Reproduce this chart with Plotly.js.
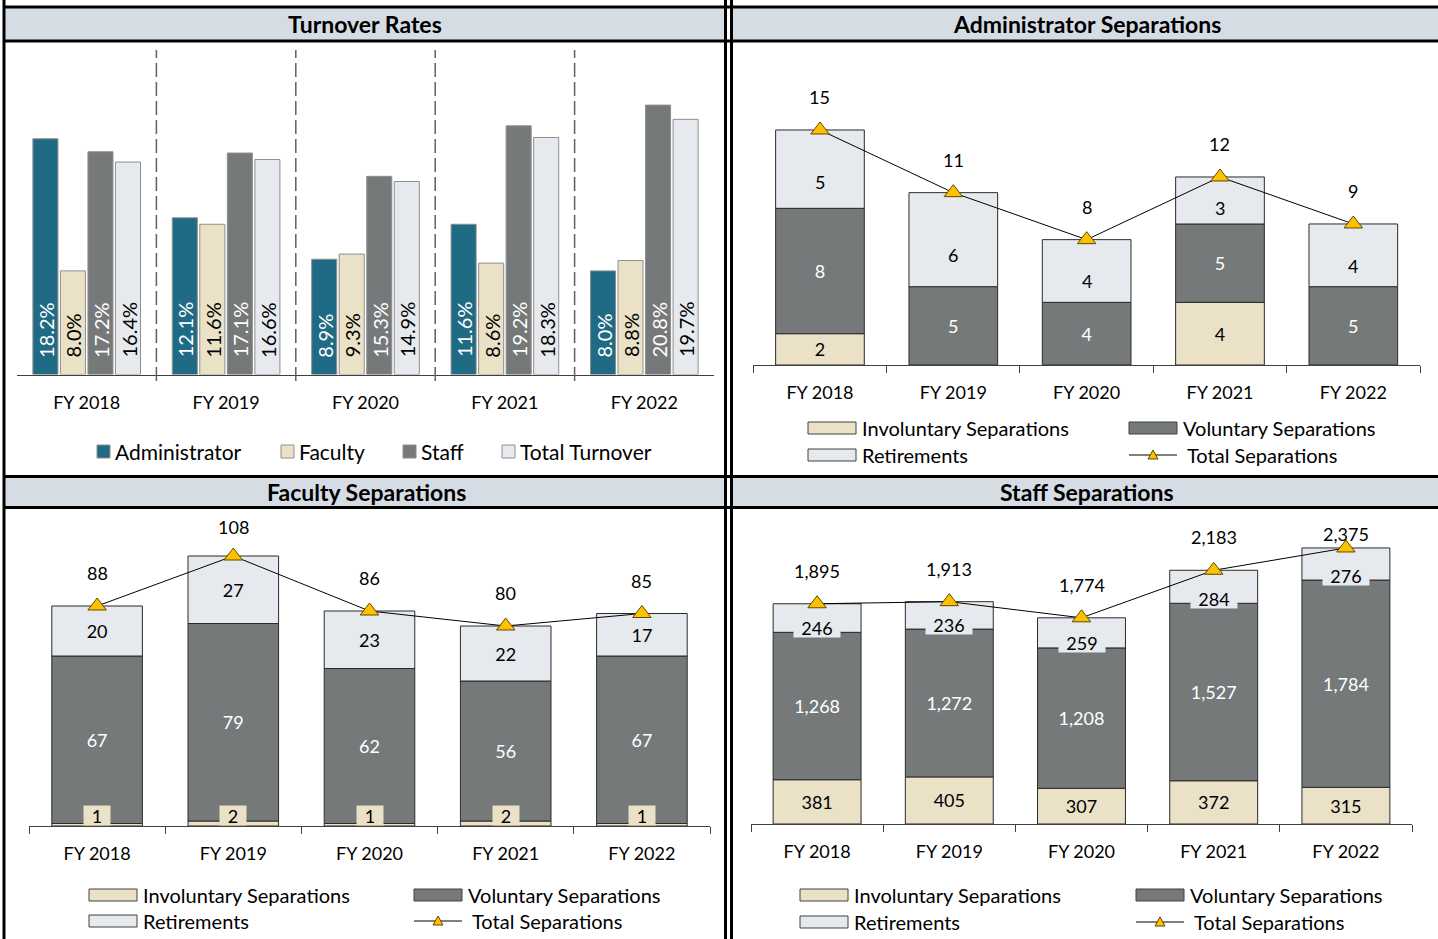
<!DOCTYPE html>
<html><head><meta charset="utf-8">
<script src="https://cdn.plot.ly/plotly-3.0.1.min.js"></script>
<style>html,body{margin:0;padding:0;background:#fff;overflow:hidden}#chart{width:1438px;height:939px}</style>
</head><body><div id="chart"></div>
<script>
// ---------------- DATA ----------------
const years = ['FY 2018', 'FY 2019', 'FY 2020', 'FY 2021', 'FY 2022'];

const turnoverAdministrator = [18.2, 12.1, 8.9, 11.6, 8.0];
const turnoverFaculty       = [8.0, 11.6, 9.3, 8.6, 8.8];
const turnoverStaff         = [17.2, 17.1, 15.3, 19.2, 20.8];
const turnoverTotal         = [16.4, 16.6, 14.9, 18.3, 19.7];

const adminInvoluntary = [2, 0, 0, 4, 0];
const adminVoluntary   = [8, 5, 4, 5, 5];
const adminRetirements = [5, 6, 4, 3, 4];
const adminTotal       = [15, 11, 8, 12, 9];

const facultyInvoluntary = [1, 2, 1, 2, 1];
const facultyVoluntary   = [67, 79, 62, 56, 67];
const facultyRetirements = [20, 27, 23, 22, 17];
const facultyTotal       = [88, 108, 86, 80, 85];

const staffInvoluntary = [381, 405, 307, 372, 315];
const staffVoluntary   = [1268, 1272, 1208, 1527, 1784];
const staffRetirements = [246, 236, 259, 284, 276];
const staffTotal       = [1895, 1913, 1774, 2183, 2375];

const turnoverNames   = ['Administrator', 'Faculty', 'Staff', 'Total Turnover'];
const separationNames = ['Involuntary Separations', 'Voluntary Separations', 'Retirements', 'Total Separations'];
const panelTitles     = ['Turnover Rates', 'Administrator Separations', 'Faculty Separations', 'Staff Separations'];

// ---------------- STYLE / GEOMETRY ----------------
const W = 1438, H = 939;
const px = x => x / W;
const py = y => 1 - y / H;
const C = {teal: '#1F6A84', tan: '#EAE1C6', grey: '#76797A', light: '#E6E9EE', bar: '#D6DCE4', gold: '#FFC000'};
const FONT = 'Lato, "Open Sans", sans-serif';
const fmt = v => v.toLocaleString('en-US');

// panel plot areas (pixels) : x0,x1 domain, yb baseline, yt top, ymax range
const P = [
  {x0: 17,    x1: 714,  yb: 374.5, yt: 50.7, ymax: 25},
  {x0: 753.3, x1: 1420, yb: 365,   yt: 67.3, ymax: 19},
  {x0: 29,    x1: 710,  yb: 826,   yt: 526,  ymax: 120},
  {x0: 751,   x1: 1412, yb: 824,   yt: 516,  ymax: 2650}
];
const ppu = p => (p.yb - p.yt) / p.ymax;
const axSuffix = ['', '2', '3', '4'];
const BARGAP = 0.21, BARGROUPGAP = 0.09;

const layout = {
  width: W, height: H,
  margin: {l: 0, r: 0, t: 0, b: 0},
  paper_bgcolor: '#fff', plot_bgcolor: 'rgba(0,0,0,0)',
  font: {family: FONT, size: 18, color: '#000'},
  showlegend: false,
  barmode: 'group', bargap: BARGAP, bargroupgap: BARGROUPGAP,
  shapes: [], annotations: []
};

P.forEach((p, i) => {
  const s = axSuffix[i];
  layout['xaxis' + s] = {
    domain: [px(p.x0), px(p.x1)], anchor: 'y' + s, type: 'category',
    showline: true, linecolor: '#404040', linewidth: 1,
    ticks: i === 0 ? '' : 'outside', tickson: 'boundaries', ticklen: 7, tickcolor: '#404040', tickwidth: 1,
    ticklabelstandoff: i === 0 ? 12 : 11,
    tickfont: {size: 18, color: '#000'}, showgrid: false, fixedrange: true
  };
  layout['yaxis' + s] = {
    domain: [py(p.yb), py(p.yt)], anchor: 'x' + s, range: [0, p.ymax],
    visible: false, showgrid: false, zeroline: false, fixedrange: true
  };
});

const traces = [];

// ---------- Panel 1 : turnover rates ----------
const turnoverSeries = [turnoverAdministrator, turnoverFaculty, turnoverStaff, turnoverTotal];
const turnoverColors = [C.teal, C.tan, C.grey, C.light];
const turnoverText   = ['#fff', '#000', '#fff', '#000'];
const slot = (1 - BARGAP) / turnoverSeries.length;
turnoverSeries.forEach((vals, k) => {
  traces.push({
    type: 'bar', x: years, y: vals, xaxis: 'x', yaxis: 'y', name: turnoverNames[k],
    marker: {color: turnoverColors[k], line: {color: '#8f8f8f', width: 1}},
    textposition: 'none', hoverinfo: 'skip'
  });
  const off = (k - (turnoverSeries.length - 1) / 2) * slot;
  vals.forEach((v, n) => layout.annotations.push({
    xref: 'x', yref: 'y', x: n + off, y: 0, text: v.toFixed(1) + '%', textangle: -90,
    showarrow: false, xanchor: 'center', yanchor: 'bottom', yshift: 15,
    font: {size: 20, color: turnoverText[k], family: FONT}
  }));
});
for (let i = 0; i < years.length - 1; i++) {
  layout.shapes.push({type: 'line', xref: 'x', yref: 'paper', x0: i + 0.5, x1: i + 0.5,
    y0: py(381), y1: py(50), line: {color: '#606060', width: 1.5, dash: '14px,5px'}});
}

// ---------- Panels 2-4 : separations ----------
const sepData = [
  {inv: adminInvoluntary,   vol: adminVoluntary,   ret: adminRetirements,   tot: adminTotal},
  {inv: facultyInvoluntary, vol: facultyVoluntary, ret: facultyRetirements, tot: facultyTotal},
  {inv: staffInvoluntary,   vol: staffVoluntary,   ret: staffRetirements,   tot: staffTotal}
];
const labelCapPx = [0, 527, 534];

sepData.forEach((d, j) => {
  const i = j + 1, s = axSuffix[i], p = P[i];
  const xa = 'x' + s, ya = 'y' + s;
  const common = {type: 'bar', x: years, xaxis: xa, yaxis: ya, width: 0.665, offset: -0.3325,
    offsetgroup: 'stack' + i, constraintext: 'none', textposition: 'inside', insidetextanchor: 'middle',
    hoverinfo: 'skip'};
  const outline = {color: '#2b2b2b', width: 1};
  const baseVol = d.inv.slice();
  const baseRet = d.inv.map((v, n) => v + d.vol[n]);
  traces.push(Object.assign({}, common, {
    y: d.inv, name: separationNames[0], marker: {color: C.tan, line: outline},
    text: j === 1 ? d.inv.map(() => '') : d.inv.map(v => v ? fmt(v) : ''),
    textfont: {size: 18, color: '#000', family: FONT}
  }));
  traces.push(Object.assign({}, common, {
    y: d.vol, base: baseVol, name: separationNames[1], marker: {color: C.grey, line: outline},
    text: d.vol.map(v => v ? fmt(v) : ''), textfont: {size: 18, color: '#fff', family: FONT}
  }));
  traces.push(Object.assign({}, common, {
    y: d.ret, base: baseRet, name: separationNames[2], marker: {color: C.light, line: outline},
    text: j === 1 ? d.ret.map(v => fmt(v)) : d.ret.map(() => ''), textfont: {size: 18, color: '#000', family: FONT}
  }));
  traces.push({
    type: 'scatter', mode: 'lines+markers', x: years, y: d.tot, xaxis: xa, yaxis: ya, name: separationNames[3],
    line: {color: '#000', width: 1},
    marker: {symbol: 'triangle-up', size: 16, color: C.gold, line: {color: '#5c4a00', width: 1}},
    cliponaxis: false, hoverinfo: 'skip'
  });
  // total labels
  const u = ppu(p);
  d.tot.forEach((t, n) => {
    let yl = t + 33 / u;
    if (labelCapPx[j]) yl = Math.min(yl, (p.yb - labelCapPx[j]) / u);
    layout.annotations.push({xref: xa, yref: ya, x: years[n], y: yl, text: fmt(t), showarrow: false,
      yanchor: 'middle', font: {size: 18, color: '#000'}});
  });
  // special labels
  if (j === 0) {
    d.ret.forEach((r, n) => layout.annotations.push({xref: xa, yref: ya, x: years[n], y: baseRet[n] + r / 3,
      text: fmt(r), showarrow: false, yanchor: 'middle', font: {size: 18, color: '#000'}}));
  }
  if (j === 1) {
    d.inv.forEach((v, n) => layout.annotations.push({xref: xa, yref: ya, x: years[n], y: 0, yanchor: 'bottom',
      text: fmt(v), showarrow: false, bgcolor: C.tan, width: 26, height: 19, borderpad: 0,
      font: {size: 18, color: '#000'}}));
  }
  if (j === 2) {
    d.ret.forEach((r, n) => layout.annotations.push({xref: xa, yref: ya, x: years[n], y: baseRet[n], yanchor: 'middle',
      yshift: 5, text: fmt(r), showarrow: false, bgcolor: C.light, width: 46, height: 19, borderpad: 0,
      font: {size: 18, color: '#000'}}));
  }
});

// ---------------- FRAME & TITLE BARS ----------------
const lineShape = (x0, y0, x1, y1, w) => ({type: 'line', xref: 'paper', yref: 'paper',
  x0: px(x0), y0: py(y0), x1: px(x1), y1: py(y1), line: {color: '#000', width: w}});
const rectShape = (x0, y0, x1, y1, fill, lc, lw) => ({type: 'rect', xref: 'paper', yref: 'paper',
  x0: px(x0), y0: py(y0), x1: px(x1), y1: py(y1), fillcolor: fill, line: {color: lc || fill, width: lw || 0}});

[[4, 725], [732, 1438]].forEach(([a, b]) => {
  layout.shapes.push(rectShape(a, 7, b, 41, C.bar));
  layout.shapes.push(rectShape(a, 476.5, b, 507.5, C.bar));
});
layout.shapes.push(lineShape(3, 7, 1438, 7, 3));
layout.shapes.push(lineShape(3, 41, 1438, 41, 3));
layout.shapes.push(lineShape(3, 476.5, 1438, 476.5, 3));
layout.shapes.push(lineShape(3, 507.5, 1438, 507.5, 3));
layout.shapes.push(lineShape(4, 0, 4, 939, 3));
layout.shapes.push(lineShape(725.5, 0, 725.5, 939, 3));
layout.shapes.push(lineShape(731.5, 0, 731.5, 939, 3));

const titlePos = [[365, 24], [1087, 24], [366, 491.5], [1087, 491.5]];
panelTitles.forEach((t, i) => layout.annotations.push({xref: 'paper', yref: 'paper', x: px(titlePos[i][0]),
  y: py(titlePos[i][1]), text: '<b>' + t + '</b>', showarrow: false, xanchor: 'center', yanchor: 'middle',
  font: {size: 23, color: '#000', family: FONT}}));

// ---------------- LEGENDS ----------------
const legText = (x, y, t, sz) => layout.annotations.push({xref: 'paper', yref: 'paper', x: px(x), y: py(y), text: t,
  showarrow: false, xanchor: 'left', yanchor: 'middle', font: {size: sz, color: '#000'}});

// panel 1 legend
const l1 = [97, 281, 403, 502];
turnoverNames.forEach((n, k) => {
  layout.shapes.push(rectShape(l1[k], 445, l1[k] + 13, 458, turnoverColors[k], '#8f8f8f', 1));
  legText(l1[k] + 16, 451.5, n, 21);
});

// separation legends
const sepFill = [C.tan, C.grey, C.light];
const legendGeo = [
  {c1: 808, c2: 1129, r1: 428, r2: 455},
  {c1: 89,  c2: 414,  r1: 895, r2: 921},
  {c1: 800, c2: 1136, r1: 895, r2: 922}
];
legendGeo.forEach(g => {
  const slots = [[g.c1, g.r1], [g.c2, g.r1], [g.c1, g.r2]];
  slots.forEach(([x, y], k) => {
    layout.shapes.push(rectShape(x, y - 6, x + 48, y + 6, sepFill[k], '#404040', 1));
    legText(x + 52, y, separationNames[k], 20);
  });
  const x = g.c2, y = g.r2, m = x + 24;
  layout.shapes.push(lineShape(x, y, x + 48, y, 1));
  layout.shapes.push({type: 'path', xref: 'paper', yref: 'paper',
    path: `M${px(m - 5)},${py(y + 4)} L${px(m + 5)},${py(y + 4)} L${px(m)},${py(y - 5)} Z`,
    fillcolor: C.gold, line: {color: '#5c4a00', width: 1}});
  legText(x + 56, y, separationNames[3], 20);
});

Plotly.newPlot('chart', traces, layout, {staticPlot: true, displayModeBar: false});
</script>
</body></html>
